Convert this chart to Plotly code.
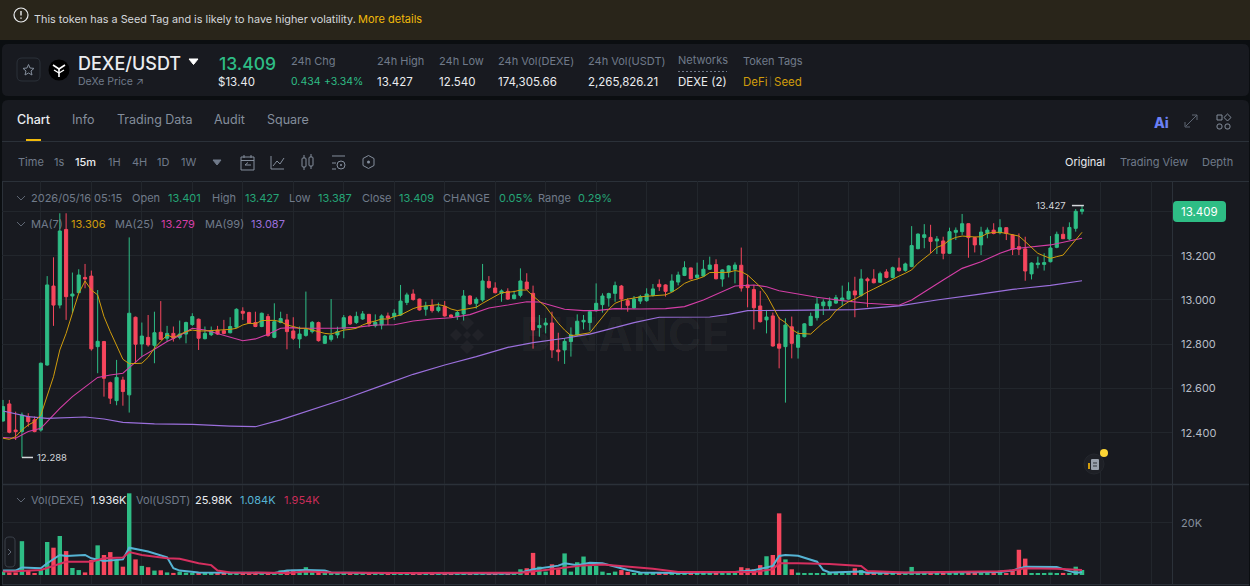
import plotly.graph_objects as go

W, H = 1250, 586

# 15m candles
opens = [12.453,12.530,12.412,12.405,12.473,12.458,12.412,12.706,13.063,12.977,
    13.319,13.018,13.033,13.102,13.108,12.789,12.812,12.626,12.545,12.638,
    12.571,12.922,12.801,12.831,12.795,12.854,12.827,12.849,12.831,12.846,
    12.889,12.913,12.825,12.843,12.864,12.861,12.852,12.877,12.949,12.943,
    12.898,12.880,12.925,12.831,12.898,12.910,12.860,12.824,12.840,12.857,
    12.898,12.804,12.822,12.842,12.872,12.925,12.898,12.914,12.935,12.884,
    12.887,12.928,12.925,12.932,12.989,13.027,13.004,12.958,12.976,12.952,
    12.970,12.932,12.925,12.937,13.018,12.985,13.000,13.084,13.054,13.030,
    13.039,13.006,13.021,13.081,13.030,12.875,12.887,12.896,12.774,12.774,
    12.812,12.842,12.901,12.898,12.952,12.979,13.009,13.030,13.063,12.997,
    12.964,12.995,12.997,13.021,13.071,13.068,13.039,13.081,13.111,13.145,
    13.102,13.108,13.139,13.160,13.095,13.127,13.139,13.157,13.068,13.047,
    12.973,12.910,12.928,12.801,12.789,12.879,12.786,12.834,12.885,12.920,
    12.974,12.973,12.986,12.998,13.004,13.041,13.021,13.095,13.095,13.080,
    13.127,13.102,13.145,13.134,13.151,13.232,13.283,13.283,13.267,13.267,
    13.211,13.306,13.309,13.345,13.282,13.249,13.301,13.316,13.304,13.327,
    13.294,13.241,13.231,13.118,13.160,13.161,13.173,13.238,13.297,13.276,
    13.324,13.401]
highs = [12.548,12.548,12.495,12.491,12.488,12.473,12.717,13.108,13.193,13.392,
    13.392,13.124,13.139,13.163,13.133,13.045,12.815,12.631,12.729,12.653,
    13.283,12.925,12.898,12.932,12.947,12.995,12.883,12.880,12.907,12.902,
    12.940,12.916,12.880,12.880,12.883,12.910,12.922,12.962,12.967,12.947,
    12.947,12.943,12.937,12.985,12.947,12.937,12.922,12.880,13.038,12.905,
    12.902,12.842,13.004,12.879,12.932,12.932,12.947,12.950,12.937,12.935,
    12.935,12.943,12.958,13.068,13.033,13.048,13.006,12.992,13.003,12.988,
    12.995,12.935,12.952,13.045,13.021,13.012,13.163,13.108,13.080,13.048,
    13.053,13.042,13.143,13.121,13.065,12.932,12.919,12.947,12.852,12.827,
    12.876,12.935,12.932,12.955,13.075,13.030,13.033,13.083,13.068,13.008,
    13.018,13.023,13.053,13.072,13.093,13.071,13.116,13.128,13.175,13.146,
    13.169,13.181,13.196,13.184,13.139,13.157,13.170,13.237,13.113,13.068,
    13.041,12.955,12.943,12.922,12.917,12.925,12.861,12.895,12.943,13.012,
    13.003,13.012,13.023,13.065,13.080,13.105,13.139,13.102,13.139,13.128,
    13.139,13.151,13.191,13.169,13.334,13.301,13.343,13.340,13.289,13.286,
    13.327,13.328,13.389,13.347,13.286,13.331,13.328,13.347,13.365,13.328,
    13.298,13.301,13.286,13.170,13.196,13.211,13.289,13.309,13.331,13.351,
    13.411,13.427]
lows = [12.450,12.397,12.367,12.288,12.427,12.402,12.405,12.703,12.883,12.962,
    12.910,12.940,13.030,13.053,12.771,12.669,12.563,12.530,12.524,12.522,
    12.491,12.717,12.744,12.789,12.714,12.819,12.812,12.812,12.822,12.804,
    12.883,12.774,12.822,12.837,12.842,12.845,12.849,12.872,12.910,12.892,
    12.877,12.877,12.834,12.827,12.895,12.777,12.819,12.782,12.834,12.849,
    12.812,12.801,12.812,12.827,12.827,12.887,12.892,12.910,12.879,12.876,
    12.867,12.887,12.910,12.928,12.977,12.997,12.952,12.929,12.943,12.944,
    12.925,12.920,12.910,12.907,12.977,12.961,12.992,13.051,13.030,12.992,
    13.000,13.003,13.012,13.045,12.780,12.834,12.849,12.738,12.723,12.711,
    12.744,12.837,12.867,12.861,12.947,12.943,12.970,12.992,12.958,12.947,
    12.961,12.982,12.992,13.015,13.041,13.015,13.036,13.066,13.108,13.093,
    13.093,13.105,13.136,13.093,13.060,13.102,13.075,13.038,12.967,12.867,
    12.898,12.849,12.789,12.691,12.536,12.736,12.735,12.831,12.882,12.907,
    12.932,12.955,12.982,12.973,13.000,12.922,13.015,12.967,13.075,13.078,
    13.098,13.098,13.128,13.128,13.148,13.229,13.234,13.211,13.208,13.184,
    13.208,13.271,13.294,13.191,13.215,13.203,13.279,13.297,13.297,13.271,
    13.203,13.203,13.087,13.093,13.143,13.133,13.170,13.234,13.276,13.271,
    13.309,13.387]
closes = [12.518,12.402,12.405,12.480,12.450,12.405,12.714,13.068,12.977,13.312,
    13.015,13.027,13.113,13.095,12.779,12.813,12.646,12.556,12.650,12.586,
    12.940,12.800,12.837,12.797,12.852,12.822,12.849,12.827,12.846,12.898,
    12.925,12.827,12.849,12.861,12.846,12.849,12.880,12.958,12.940,12.895,
    12.880,12.940,12.839,12.902,12.916,12.857,12.827,12.846,12.867,12.899,
    12.816,12.837,12.839,12.857,12.920,12.892,12.926,12.937,12.892,12.899,
    12.928,12.919,12.940,12.995,13.023,13.002,12.955,12.973,12.952,12.967,
    12.928,12.923,12.943,13.018,12.982,13.003,13.086,13.057,13.033,13.041,
    13.004,13.023,13.086,13.050,12.864,12.885,12.896,12.774,12.766,12.813,
    12.842,12.904,12.908,12.947,12.985,13.018,13.029,13.065,13.004,12.976,
    13.004,13.015,13.027,13.050,13.060,13.039,13.086,13.113,13.146,13.096,
    13.113,13.139,13.158,13.096,13.136,13.154,13.158,13.054,13.056,12.965,
    12.902,12.923,12.792,12.782,12.887,12.804,12.842,12.892,12.926,12.982,
    12.991,12.994,13.010,13.009,13.039,13.023,13.095,13.087,13.078,13.119,
    13.102,13.146,13.133,13.163,13.246,13.298,13.295,13.265,13.276,13.211,
    13.309,13.315,13.345,13.282,13.249,13.307,13.316,13.301,13.327,13.301,
    13.229,13.229,13.131,13.167,13.167,13.169,13.235,13.297,13.277,13.328,
    13.401,13.409]

# MA(7) has a reading per candle, MA(25) and MA(99) are read at the marked candles
ma7 = [12.375,12.370,12.382,12.412,12.435,12.450,12.480,12.563,12.653,12.774,
    12.849,12.940,13.030,13.086,13.045,13.023,12.925,12.857,12.797,12.732,
    12.712,12.714,12.714,12.741,12.782,12.812,12.842,12.830,12.842,12.857,
    12.864,12.860,12.860,12.861,12.864,12.864,12.867,12.872,12.887,12.895,
    12.892,12.907,12.907,12.908,12.902,12.887,12.880,12.872,12.872,12.864,
    12.857,12.849,12.846,12.854,12.864,12.867,12.872,12.887,12.898,12.905,
    12.914,12.914,12.925,12.932,12.947,12.961,12.970,12.974,12.977,12.979,
    12.973,12.959,12.952,12.958,12.961,12.967,12.985,13.000,13.018,13.033,
    13.035,13.038,13.045,13.045,13.018,12.992,12.970,12.932,12.895,12.864,
    12.839,12.842,12.846,12.852,12.887,12.925,12.958,12.985,12.997,13.004,
    13.010,13.014,13.017,13.018,13.020,13.023,13.035,13.053,13.075,13.087,
    13.095,13.105,13.124,13.125,13.124,13.125,13.133,13.128,13.113,13.086,
    13.060,13.023,12.970,12.917,12.898,12.867,12.849,12.846,12.846,12.872,
    12.898,12.916,12.952,12.973,12.992,13.004,13.021,13.036,13.050,13.065,
    13.080,13.093,13.108,13.121,13.136,13.166,13.188,13.211,13.238,13.249,
    13.271,13.283,13.289,13.286,13.285,13.286,13.301,13.306,13.306,13.301,
    13.294,13.289,13.264,13.238,13.211,13.199,13.188,13.196,13.203,13.238,
    13.274,13.306]
ma25_at = [0,2,4,6,7,9,11,13,15,17,19,20,22,24,26,28,30,32,34,36,38,40,42,44,46,
    47,50,53,56,59,62,65,68,71,74,77,80,83,85,87,89,92,94,
    97,101,105,108,111,114,116,119,121,123,126,129,133,137,142,
    144,149,152,155,158,160,162,166,171]
ma25 = [12.378,12.375,12.405,12.420,12.450,12.510,12.563,12.608,12.650,12.661,12.669,12.694,12.744,
    12.777,12.812,12.839,12.872,12.864,12.849,12.834,12.816,12.824,12.845,12.872,12.875,
    12.872,12.872,12.872,12.876,12.887,12.888,12.905,12.914,12.920,12.934,12.964,12.977,12.992,12.991,12.973,12.958,12.952,12.952,
    12.961,12.959,12.961,12.970,13.000,13.038,13.063,13.068,13.060,13.042,13.027,13.012,12.997,12.985,12.976,
    13.000,13.090,13.143,13.173,13.211,13.231,13.238,13.249,13.279]
ma99_at = [0,4,7,13,16,19,24,30,36,40,44,47,54,61,65,70,75,80,84,89,93,95,100,104,112,115,118,124,135,142,148,154,160,166,171]
ma99 = [12.498,12.473,12.465,12.471,12.462,12.447,12.440,12.438,12.430,12.427,12.458,12.485,
    12.551,12.623,12.664,12.706,12.744,12.786,12.807,12.827,12.846,12.860,12.898,12.922,
    12.923,12.935,12.952,12.953,12.956,12.973,13.000,13.023,13.048,13.066,13.087]

# volume in thousands
volumes = [1.3,1.0,1.0,13.0,1.7,0.6,1.9,12.7,10.5,15.0,
    9.2,2.7,1.9,1.0,5.8,11.4,7.7,8.8,5.8,3.2,
    31.4,6.0,3.5,3.0,1.7,1.8,1.0,0.8,1.3,0.9,
    0.8,0.8,0.5,0.6,0.5,0.6,0.5,0.4,0.5,0.4,
    0.4,0.5,0.4,0.6,1.8,1.9,2.0,1.1,3.0,1.0,
    1.1,0.7,0.6,0.5,0.6,0.4,0.7,0.5,0.4,0.6,
    0.5,0.4,0.6,0.4,0.5,0.3,0.6,0.5,0.7,0.4,
    0.5,0.6,0.4,0.5,0.6,0.4,0.7,0.5,0.4,0.4,
    0.5,0.4,2.2,2.6,8.5,3.2,1.3,4.1,2.2,8.3,
    1.3,4.9,7.1,3.5,3.5,1.3,0.6,1.3,1.9,1.2,
    0.6,0.9,0.6,0.8,0.6,0.5,0.6,0.4,0.5,0.6,
    0.5,0.6,0.4,0.7,0.5,0.6,0.6,3.0,2.6,2.2,
    3.8,7.2,7.7,23.7,6.0,2.2,0.9,0.6,0.8,0.7,
    0.7,0.6,0.8,0.5,0.6,2.6,1.9,0.6,0.5,0.7,
    0.5,0.4,0.6,0.5,3.1,0.6,0.5,0.4,0.6,0.5,
    1.0,0.6,1.0,0.7,0.8,0.5,0.6,0.5,1.7,0.6,
    1.7,9.7,6.3,0.6,0.5,0.5,0.9,0.4,0.8,0.6,
    3.2,1.936]
vol_ma5_at = [0,2,3,6,7,9,10,13,14,16,19,20,23,26,27,28,31,34,43,45,48,51,52,58,80,
    82,84,88,89,91,93,95,97,99,101,105,107,116,119,122,123,124,126,
    129,130,131,136,137,143,158,160,162,167,169,170,171]
vol_ma5 = [1.7,1.7,2.9,2.6,4.5,7.7,7.3,7.7,6.4,5.4,6.0,10.5,9.0,6.8,2.6,1.7,1.0,0.9,0.8,1.7,1.9,1.7,1.0,0.8,0.6,
    0.9,2.2,3.6,4.5,3.8,4.7,4.5,3.2,1.9,1.0,1.0,0.8,1.2,1.8,3.5,7.3,7.7,7.4,
    5.1,1.9,1.0,1.3,0.9,0.9,1.2,1.7,3.2,3.1,1.5,0.9,1.084]
vol_ma10_at = [0,2,6,8,10,14,16,19,20,22,26,28,31,33,34,36,45,48,52,63,
    82,86,89,92,95,99,103,107,119,122,123,126,
    131,136,137,143,158,160,162,167,171]
vol_ma10 = [1.3,1.4,1.9,3.5,5.1,5.1,6.4,6.7,8.8,7.7,6.4,6.2,4.5,3.8,1.7,1.0,0.8,1.3,1.0,0.8,
    0.9,1.9,2.8,3.7,4.0,3.2,2.4,1.2,1.2,2.2,4.5,4.5,
    4.2,3.5,1.5,1.0,1.4,1.8,2.6,2.4,1.954]

price_ticks = [12.4, 12.6, 12.8, 13.0, 13.2, 13.4]
price_labels = ["12.400", "12.600", "12.800", "13.000", "13.200", ""]

GREEN = "#2ebd85"
LEG_GREEN = "#25a577"
RED = "#f6465d"
YELLOW = "#f0b90b"
MA7_COL = "#d09c0c"
MA25_COL = "#d43ea6"
MA99_COL = "#9b6fdc"
GRID = "#22262c"
EDGE = "#2b3139"
GREY = "#707a8a"
LIGHT = "#eaecef"
FONT = "Inter"

shapes = []
notes = []


def px(x):
    return x / W


def py(y):
    return 1 - y / H


def text(x, y, s, color=GREY, size=11, anchor="left", weight=400):
    if anchor == "left":
        x -= 1
    notes.append(dict(x=px(x), y=py(y), xref="paper", yref="paper", text=s, showarrow=False,
                      xanchor=anchor, yanchor="middle", borderpad=0,
                      font=dict(family=FONT, size=size, color=color, weight=weight)))


def line(points, color=GREY, width=1, fill=None, closed=False, dash=None, layer="above"):
    path = "M " + " L ".join(f"{px(a):.5f} {py(b):.5f}" for a, b in points)
    if closed:
        path += " Z"
    shapes.append(dict(type="path", path=path, xref="paper", yref="paper", layer=layer,
                       line=dict(color=color, width=width, dash=dash), fillcolor=fill))


def box(x0, y0, x1, y1, fill=None, edge=None, r=0, width=1, layer="below"):
    # rounded rectangle, Q corners in paper units
    def q(a, b):
        return f"{px(a):.5f} {py(b):.5f}"
    path = (f"M {q(x0 + r, y0)} L {q(x1 - r, y0)} Q {q(x1, y0)} {q(x1, y0 + r)} "
            f"L {q(x1, y1 - r)} Q {q(x1, y1)} {q(x1 - r, y1)} L {q(x0 + r, y1)} "
            f"Q {q(x0, y1)} {q(x0, y1 - r)} L {q(x0, y0 + r)} Q {q(x0, y0)} {q(x0 + r, y0)} Z")
    shapes.append(dict(type="path", path=path, xref="paper", yref="paper", layer=layer,
                       fillcolor=fill, line=dict(color=edge or "rgba(0,0,0,0)", width=width if edge else 0)))


def dot(cx, cy, r, fill=None, edge=None, width=1, layer="above"):
    shapes.append(dict(type="circle", xref="paper", yref="paper", x0=px(cx - r), x1=px(cx + r),
                       y0=py(cy + r), y1=py(cy - r), fillcolor=fill, layer=layer,
                       line=dict(color=edge or "rgba(0,0,0,0)", width=width if edge else 0)))


def chevron(x, y):
    line([(x - 4, y - 2), (x, y + 2), (x + 4, y - 2)], color="#5e6673", width=1)


# page blocks
box(0, 0, W, 40, fill="#29251a")
box(2, 44, 1249, 96, fill="#181a20", r=6)
box(2, 100, 1249, 590, fill="#181a20", r=6)
line([(2, 141.5), (1249, 141.5)], color=EDGE, layer="below")
line([(2, 181.5), (1249, 181.5)], color=EDGE, layer="below")
line([(2, 484.5), (1249, 484.5)], color=EDGE, width=1.5, layer="below")
line([(2, 584.5), (1249, 584.5)], color=EDGE, layer="below")
line([(1172.5, 181), (1172.5, 584)], color=EDGE, layer="below")
line([(2.5, 181), (2.5, 584)], color=EDGE, layer="below")

# banner
dot(21, 15, 7, edge="#eaecef", width=1.2)
line([(21, 11), (21, 15.5)], color="#eaecef", width=1.4)
line([(21, 17.5), (21, 18.8)], color="#eaecef", width=1.4)
text(34, 19, "This token has a Seed Tag and is likely to have higher volatility.", color="#d5d8dc", size=10.85)
text(358, 19, "More details", color=YELLOW, size=11)

# ticker header
box(17, 58, 40, 81, edge=EDGE, r=5)
star = [(28.5, 64.5), (30, 68), (34, 68.4), (31, 71), (32, 75), (28.5, 73), (25, 75), (26, 71), (23, 68.4), (27, 68)]
line(star, color="#848e9c", closed=True)
dot(59, 70, 10.5, fill="#000000")
line([(53, 65), (59, 69), (65, 65)], color="#ffffff", width=1.6)
line([(54, 70), (59, 73), (64, 70)], color="#ffffff", width=1.4)
line([(59, 69), (59, 77)], color="#ffffff", width=1.6)
text(78, 63, "DEXE/USDT", color=LIGHT, size=18, weight=500)
line([(189, 59), (198, 59), (193.5, 64.5)], color="#ffffff", fill="#ffffff", closed=True)
text(78, 82, "DeXe Price ↗", color=GREY, size=10.5)
text(219, 63, "13.409", color=GREEN, size=17.5, weight=500)
text(218, 82, "$13.40", color=LIGHT, size=11.5)
for x, head, val in [(377, "24h High", "13.427"), (439, "24h Low", "12.540"),
                     (498, "24h Vol(DEXE)", "174,305.66"), (588, "24h Vol(USDT)", "2,265,826.21")]:
    text(x, 61, head, size=11)
    text(x, 82, val, color=LIGHT, size=11.5)
text(291, 61, "24h Chg", size=11)
text(291, 82, "0.434", color=GREEN, size=10.5)
text(324, 82, "+3.34%", color=GREEN, size=10.5)
text(678, 60, "Networks", size=11)
line([(678, 71.5), (727, 71.5)], color=GREY, dash="2px,2px")
text(678, 82, "DEXE (2)", color=LIGHT, size=11.5)
text(743, 61, "Token Tags", size=11)
text(743, 82, "DeFi", color=MA7_COL, size=11.5)
text(769, 82, "|", color="#474d57", size=9)
text(774, 82, "Seed", color=MA7_COL, size=11.5)

# tabs
text(17, 119, "Chart", color=LIGHT, size=12.5, weight=500)
text(72, 119, "Info", color="#848e9c", size=12.5)
text(117, 119, "Trading Data", color="#848e9c", size=12.5)
text(214, 119, "Audit", color="#848e9c", size=12.5)
text(267, 119, "Square", color="#848e9c", size=12.5)
box(26, 139, 41, 141, fill=YELLOW)
text(1161, 122, "Ai", color="#6a80f5", size=14, anchor="center", weight=800)
line([(1186, 126), (1191, 121)], color="#5e6673")
line([(1191, 121), (1197, 115)], color="#5e6673")
line([(1192, 115), (1197, 115), (1197, 120)], color="#5e6673")
line([(1185, 122), (1185, 127), (1190, 127)], color="#5e6673")
box(1217, 115, 1222, 120, edge="#848e9c", layer="above")
box(1217, 124, 1222, 129, edge="#848e9c", r=2, layer="above")
box(1225, 124, 1230, 129, edge="#848e9c", r=2, layer="above")
line([(1227.5, 114), (1231, 117.5), (1227.5, 121), (1224, 117.5)], color="#848e9c", closed=True)

# toolbar
for x, s in [(18, "Time"), (54, "1s"), (108, "1H"), (132, "4H"), (157, "1D"), (181, "1W")]:
    text(x, 162, s, size=11)
text(75, 162, "15m", color=LIGHT, size=11, weight=500)
line([(213, 160), (221, 160), (217, 165)], color=GREY, fill=GREY, closed=True)
box(241, 157, 254, 170, edge="#848e9c", layer="above")
line([(241, 160.5), (254, 160.5)], color="#848e9c")
line([(244, 155), (244, 158)], color="#848e9c")
line([(251, 155), (251, 158)], color="#848e9c")
line([(251, 165), (245, 165), (248, 162.5)], color="#848e9c")
line([(271, 156), (271, 169), (284, 169)], color="#848e9c")
line([(273, 166), (277, 161), (280, 164), (284, 158)], color="#848e9c")
box(302, 158, 306, 167, edge="#848e9c", r=1, layer="above")
box(309, 157, 313, 166, edge="#848e9c", r=1, layer="above")
line([(304, 155), (304, 158)], color="#848e9c")
line([(304, 167), (304, 170)], color="#848e9c")
line([(311, 154), (311, 157)], color="#848e9c")
line([(311, 166), (311, 169)], color="#848e9c")
line([(332, 156), (345, 156)], color="#848e9c")
line([(332, 163), (336, 163)], color="#848e9c")
line([(332, 169), (336, 169)], color="#848e9c")
dot(341, 165, 4, edge="#848e9c")
dot(341, 165, 1, fill="#848e9c")
line([(368.5, 155.5), (374, 158.5), (374, 165.5), (368.5, 168.5), (363, 165.5), (363, 158.5)], color="#848e9c", closed=True)
dot(368.5, 162, 1.5, fill="#848e9c")
text(1065, 162, "Original", color=LIGHT, size=11)
text(1120, 162, "Trading View", size=11)
text(1202, 162, "Depth", size=11)

# chart legends
chevron(21, 198)
chevron(21, 224)
chevron(21, 500)
for x, s, c in [(31, "2026/05/16 05:15", GREY), (132, "Open", GREY), (168, "13.401", LEG_GREEN), (212, "High", GREY),
                (245, "13.427", LEG_GREEN), (289, "Low", GREY), (318, "13.387", LEG_GREEN), (362, "Close", GREY),
                (399, "13.409", LEG_GREEN), (443, "CHANGE", GREY), (499, "0.05%", LEG_GREEN), (538, "Range", GREY),
                (578, "0.29%", LEG_GREEN)]:
    text(x, 198, s, color=c, size=11)
for x, s, c in [(31, "MA(7)", GREY), (71, "13.306", MA7_COL), (115, "MA(25)", GREY), (161, "13.279", MA25_COL),
                (205, "MA(99)", GREY), (251, "13.087", MA99_COL)]:
    text(x, 224, s, color=c, size=11)
for x, s, c in [(31, "Vol(DEXE)", GREY), (91, "1.936K", LIGHT), (136, "Vol(USDT)", GREY), (195, "25.98K", LIGHT),
                (240, "1.084K", "#55b4d4"), (284, "1.954K", "#c92c58")]:
    text(x, 500, s, color=c, size=11)

# last price tag
box(1173, 201, 1226, 222, fill=GREEN, r=4, layer="above")
text(1199.5, 212, "13.409", color="#ffffff", size=11.5, anchor="center")

# high and low markers
shapes.append(dict(type="line", xref="x", yref="y", x0=169.4, x1=171.3, y0=13.427, y1=13.427, line=dict(color="#d5d8dc", width=1.5)))
notes.append(dict(x=169.4, y=13.427, xref="x", yref="y", text="13.427", showarrow=False, xanchor="right", xshift=-4,
                  yanchor="middle", font=dict(family=FONT, size=9.5, color="#d5d8dc")))
shapes.append(dict(type="line", xref="x", yref="y", x0=3, x1=4.75, y0=12.288, y1=12.288, line=dict(color="#d5d8dc", width=1.5)))
notes.append(dict(x=4.75, y=12.288, xref="x", yref="y", text="12.288", showarrow=False, xanchor="left", xshift=2,
                  yanchor="middle", font=dict(family=FONT, size=9.5, color="#d5d8dc")))

# watermark
WM = "rgba(255,255,255,0.04)"
for cx, cy, r in [(467, 323, 7), (456, 335, 6), (478, 335, 6), (467, 335, 4), (467, 347, 7)]:
    line([(cx, cy - r), (cx + r, cy), (cx, cy + r), (cx - r, cy)], color=WM, fill=WM, closed=True, width=0, layer="below")
text(625, 334, "BINANCE", color=WM, size=46, anchor="center", weight=700)

# vol panel side handle and news bubble
box(5, 537, 15, 567, edge="#3a4049", r=4, fill="#181a20", layer="above")
line([(8, 549), (11, 552), (8, 555)], color="#5e6673")
dot(1094, 464, 10, fill="#1e2026", edge="#24272d", width=1)
box(1091, 459, 1099, 470, fill="#9aa1ac", r=1, layer="above")
line([(1093, 463), (1097, 463)], color="#30343b")
line([(1093, 466), (1097, 466)], color="#30343b")
line([(1089, 463), (1089, 469)], color=MA7_COL, width=2)
dot(1104, 453, 4, fill="#fcd535")

idx = list(range(len(closes)))
vol_colors = [GREEN if c >= o else RED for o, c in zip(opens, closes)]

fig = go.Figure()
fig.add_trace(go.Candlestick(x=idx, open=opens, high=highs, low=lows, close=closes,
                             increasing=dict(line=dict(color=GREEN, width=1), fillcolor=GREEN),
                             decreasing=dict(line=dict(color=RED, width=1), fillcolor=RED),
                             whiskerwidth=0, showlegend=False))
fig.add_trace(go.Scatter(x=ma25_at, y=ma25, mode="lines", line=dict(color=MA25_COL, width=1.1), name="MA(25)"))
fig.add_trace(go.Scatter(x=ma99_at, y=ma99, mode="lines", line=dict(color=MA99_COL, width=1.2), name="MA(99)"))
fig.add_trace(go.Scatter(x=idx, y=ma7, mode="lines", line=dict(color=MA7_COL, width=1), name="MA(7)"))
fig.add_trace(go.Bar(x=idx, y=volumes, marker=dict(color=vol_colors, line=dict(width=0)), width=0.7,
                     xaxis="x2", yaxis="y2", name="Vol"))
fig.add_trace(go.Scatter(x=vol_ma5_at, y=vol_ma5, mode="lines", line=dict(color="#55b4d4", width=2),
                         xaxis="x2", yaxis="y2", name="Vol MA5"))
fig.add_trace(go.Scatter(x=vol_ma10_at, y=vol_ma10, mode="lines", line=dict(color="#d62f5f", width=2),
                         xaxis="x2", yaxis="y2", name="Vol MA10"))

x_axis = dict(range=[-0.16, 185.26], domain=[px(2), px(1172)], tickmode="linear", tick0=6, dtick=8,
              showticklabels=False, showgrid=True, gridcolor=GRID, gridwidth=1, zeroline=False, ticks="")
fig.update_layout(
    width=W, height=H, margin=dict(l=0, r=0, t=0, b=0), showlegend=False,
    paper_bgcolor="#0b0e11", plot_bgcolor="rgba(0,0,0,0)",
    bargap=0.3, hovermode="x",
    xaxis=dict(x_axis, anchor="y", rangeslider=dict(visible=False)),
    xaxis2=dict(x_axis, anchor="y2"),
    yaxis=dict(domain=[py(484), py(181)], range=[12.168, 13.538], side="right", anchor="x",
               tickmode="array", tickvals=price_ticks, ticktext=price_labels, ticks="", ticklabelstandoff=8,
               tickfont=dict(family=FONT, size=11, color="#b7bdc6"), showgrid=True, gridcolor=GRID, zeroline=False),
    yaxis2=dict(domain=[py(584), py(485)], range=[-3.46, 34.6], side="right", anchor="x2",
                tickmode="array", tickvals=[20], ticktext=["20K"], ticks="", ticklabelstandoff=8,
                tickfont=dict(family=FONT, size=11, color="#848e9c"), showgrid=True, gridcolor=GRID, zeroline=False),
    shapes=shapes, annotations=notes,
)

fig.write_html("out.html", config=dict(displayModeBar=False),
               post_script="document.body.style.margin='0';document.body.style.overflow='hidden';document.body.style.background='#0b0e11';")
